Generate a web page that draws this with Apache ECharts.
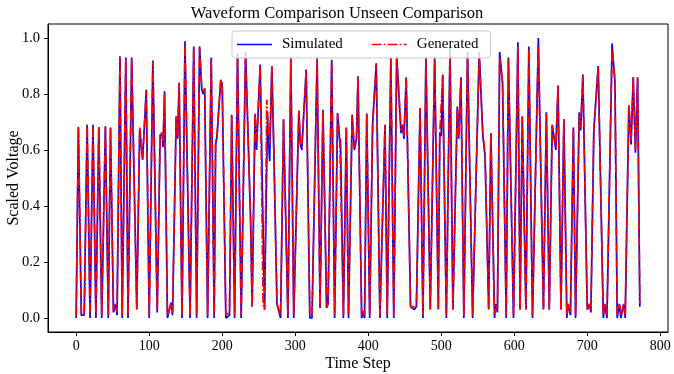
<!DOCTYPE html>
<html lang="en">
<head>
    <meta charset="UTF-8">
    <title>Waveform Comparison</title>
    <script src="https://cdn.jsdelivr.net/npm/echarts@6/dist/echarts.min.js"></script>
    <style>
        body { margin: 0; background: #fff; }
        #chart { width: 674px; height: 374px; }
    </style>
</head>
<body>
<div id="chart"></div>
<script type="text/javascript">
    // [time step, scaled voltage], peaks and troughs
    var simulated = [
        [0,0],[3,0.68],[7,0.01],[11,0.01],[15,0.69],[19,0],[23,0.69],[27,0],[31,0.68],[35,0],
        [40,0.685],[44,0],[47,0.68],[51,0.02],[54,0.05],[56,0.01],[60,0.935],[63,0],[68,0.93],[71,0],
        [76,0.93],[83,0.03],[87,0.675],[91,0.565],[96,0.815],[100,0],[105,0.92],[111,0.02],[115,0.655],[118,0.65],
        [119,0.61],[121,0.81],[125,0],[130,0.055],[132,0.01],[137,0.72],[139,0.64],[141,0.84],[145,0],[149,0.988],
        [156,0],[161,0.97],[165,0],[169,0.97],[172,0.815],[174,0.8],[176,0.82],[180,0],[185,0.93],[189,0],
        [191,0.62],[193,0.65],[198,0.85],[200,0.83],[205,0],[210,0.01],[213,0.726],[217,0],[221,0.946],[226,0],
        [232,0.95],[239,0.34],[241,0.04],[245,0.727],[247,0.6],[252,0.905],[258,0.03],[262,0.71],[265,0.56],[268,0.9],
        [271,0.56],[275,0.05],[280,0],[284,0.71],[290,0],[294,0.93],[298,0],[305,0.74],[307,0.62],[309,0.6],
        [315,0.887],[320,0],[323,0],[330,0.93],[334,0.036],[338,0.744],[343,0.036],[345,0.05],[350,0.922],[354,0],
        [358,0.732],[361,0.63],[362,0.64],[366,0],[370,0.68],[373,0],[378,0.726],[381,0.6],[384,0.64],[386,0.863],
        [391,0],[393,0.02],[395,0],[398,0.73],[402,0],[406,0.69],[411,0.91],[416,0],[423,0.69],[426,0],
        [431,0.93],[435,0],[439,0.935],[445,0.66],[447,0.69],[449,0.64],[452,0.86],[458,0.04],[463,0.03],[466,0.04],
        [471,0.75],[475,0],[479,0.93],[485,0.03],[491,0.93],[496,0.03],[498,0.66],[500,0.65],[502,0.87],[507,0],
        [512,0.964],[516,0.03],[522,0.755],[524,0.64],[527,0.86],[531,0],[536,0.95],[543,0],[552,0.95],[557,0.65],
        [560,0.58],[565,0.03],[568,0.66],[573,0],[575,0.05],[577,0.02],[580,0.95],[584,0.84],[589,0],[592,0.93],
        [599,0],[605,0.985],[608,0.03],[611,0.72],[616,0.03],[620,0.97],[625,0],[633,1.0],[640,0.03],[644,0.735],
        [648,0.03],[652,0.69],[657,0.6],[660,0.83],[664,0.03],[668,0.71],[672,0],[674,0.05],[677,0.01],[681,0.68],
        [684,0],[689,0.735],[691,0.67],[694,0.87],[700,0.03],[703,0.05],[705,0.02],[709,0.67],[715,0.9],[722,0],
        [724,0.05],[727,0],[734,0.98],[738,0.84],[741,0],[744,0.05],[746,0],[750,0.05],[752,0],[757,0.76],
        [760,0.62],[763,0.86],[766,0.59],[769,0.86],[772,0.04]
    ];
    var generated = [
        [0,0.01],[3,0.685],[7,0.02],[11,0.01],[15,0.69],[19,0.01],[23,0.69],[27,0.01],[31,0.685],[35,0.01],
        [40,0.68],[44,0.01],[47,0.68],[51,0.03],[54,0.05],[56,0.02],[60,0.93],[63,0.01],[68,0.925],[71,0.01],
        [76,0.925],[83,0.03],[87,0.68],[91,0.57],[96,0.81],[100,0.01],[105,0.915],[111,0.03],[115,0.66],[118,0.66],
        [119,0.62],[121,0.8],[125,0.01],[130,0.05],[132,0.02],[137,0.72],[139,0.65],[141,0.84],[145,0.01],[149,0.98],
        [156,0.01],[161,0.965],[165,0.01],[169,0.965],[172,0.82],[174,0.81],[176,0.82],[180,0.01],[185,0.925],[189,0.01],
        [191,0.62],[193,0.66],[198,0.85],[200,0.84],[205,0.01],[210,0.02],[213,0.72],[217,0.01],[221,0.94],[226,0.01],
        [232,0.945],[239,0.34],[241,0.04],[245,0.73],[247,0.62],[252,0.9],[256,0.05],[258,0.03],[261,0.78],[265,0.62],
        [268,0.9],[271,0.57],[275,0.05],[280,0.01],[284,0.71],[290,0.01],[294,0.925],[298,0.01],[305,0.74],[307,0.63],
        [309,0.61],[315,0.88],[320,0.01],[323,0.01],[330,0.925],[334,0.04],[338,0.74],[343,0.04],[345,0.05],[350,0.915],
        [354,0.01],[358,0.73],[361,0.64],[362,0.64],[366,0.01],[370,0.68],[373,0.01],[378,0.72],[381,0.61],[384,0.65],
        [386,0.86],[391,0.01],[393,0.03],[395,0.01],[398,0.73],[402,0.01],[406,0.69],[411,0.905],[416,0.01],[423,0.69],
        [426,0.01],[431,0.925],[435,0.01],[439,0.93],[445,0.67],[447,0.69],[449,0.65],[452,0.86],[458,0.04],[463,0.04],
        [466,0.04],[471,0.75],[475,0.01],[479,0.925],[485,0.03],[491,0.925],[496,0.03],[498,0.66],[500,0.66],[502,0.865],
        [507,0.01],[512,0.95],[516,0.03],[522,0.75],[524,0.65],[527,0.855],[531,0.01],[536,0.945],[543,0.01],[552,0.945],
        [557,0.66],[560,0.59],[565,0.03],[568,0.66],[573,0.01],[575,0.05],[577,0.03],[580,0.93],[584,0.84],[589,0.01],
        [592,0.925],[599,0.01],[605,0.97],[608,0.03],[611,0.72],[616,0.03],[620,0.96],[625,0.01],[633,0.97],[640,0.03],
        [644,0.73],[648,0.03],[652,0.69],[657,0.61],[660,0.83],[664,0.03],[668,0.71],[672,0.01],[674,0.05],[677,0.02],
        [681,0.68],[684,0.01],[689,0.73],[691,0.68],[694,0.865],[700,0.03],[703,0.05],[705,0.03],[709,0.67],[715,0.895],
        [722,0.01],[724,0.05],[727,0.01],[734,0.96],[738,0.85],[741,0.01],[744,0.05],[746,0.01],[750,0.05],[752,0.01],
        [757,0.76],[760,0.63],[763,0.86],[766,0.6],[769,0.855],[772,0.05]
    ];
    var xTicks = [0, 100, 200, 300, 400, 500, 600, 700, 800];
    var yTicks = [0, 0.2, 0.4, 0.6, 0.8, 1.0];

    var serif = 'Liberation Serif, DejaVu Serif, serif';
    // legend samples: solid line and dash-dot line
    var solidIcon = 'path://M0,0H35V1.6H0Z';
    var dashDotIcon = 'path://M0,0H9.6V1.6H0Z M12,0H13.5V1.6H12Z M15.9,0H25.5V1.6H15.9Z M27.9,0H29.4V1.6H27.9Z M31.8,0H35V1.6H31.8Z';

    var myChart = echarts.init(document.getElementById('chart'));
    myChart.setOption({
        animation: false,
        title: {
            text: 'Waveform Comparison Unseen Comparison',
            left: 'center',
            top: 0,
            textStyle: {fontFamily: serif, fontSize: 16.5, fontWeight: 'normal', color: '#000'}
        },
        legend: {
            left: 232,
            top: 31,
            padding: [6, 12, 6, 5],
            itemWidth: 35,
            itemHeight: 1.6,
            itemGap: 29,
            backgroundColor: 'rgba(255,255,255,0.8)',
            borderColor: '#cccccc',
            borderWidth: 1,
            borderRadius: 3,
            textStyle: {fontFamily: serif, fontSize: 15, color: '#000', padding: [0, 0, 0, 5]},
            data: [
                {name: 'Simulated', icon: solidIcon},
                {name: 'Generated', icon: dashDotIcon}
            ]
        },
        grid: {
            left: 48, right: 6, top: 24, bottom: 42,
            containLabel: false,
            outerBoundsMode: 'none',
            show: true, borderColor: '#000', borderWidth: 1
        },
        xAxis: {
            type: 'value',
            min: -38.6,
            max: 810.6,
            name: 'Time Step',
            nameLocation: 'middle',
            nameGap: 24,
            nameMoveOverlap: false,
            nameTextStyle: {fontFamily: serif, fontSize: 16, color: '#000'},
            axisLine: {show: true, onZero: false, lineStyle: {color: '#000'}},
            axisTick: {show: true, length: 4, customValues: xTicks, lineStyle: {color: '#000'}},
            axisLabel: {customValues: xTicks, margin: 7, fontFamily: serif, fontSize: 14, color: '#000'},
            splitLine: {show: false}
        },
        yAxis: {
            type: 'value',
            min: -0.05,
            max: 1.05,
            name: 'Scaled Voltage',
            nameLocation: 'middle',
            nameGap: 26,
            nameMoveOverlap: false,
            nameTextStyle: {fontFamily: serif, fontSize: 16, color: '#000'},
            axisLine: {show: true, onZero: false, lineStyle: {color: '#000'}},
            axisTick: {show: true, length: 4, customValues: yTicks, lineStyle: {color: '#000'}},
            axisLabel: {
                customValues: yTicks, margin: 8, fontFamily: serif, fontSize: 14.5, color: '#000',
                formatter: function (v) { return v.toFixed(1); }
            },
            splitLine: {show: false}
        },
        series: [{
            name: 'Simulated',
            type: 'line',
            data: simulated,
            symbol: 'none',
            color: '#0000ff',
            lineStyle: {color: '#0000ff', width: 1.7}
        }, {
            name: 'Generated',
            type: 'line',
            data: generated,
            symbol: 'none',
            color: '#ff0000',
            lineStyle: {color: '#ff0000', width: 1.7, type: [9.6, 2.4, 1.5, 2.4]}
        }]
    });
</script>
</body>
</html>
